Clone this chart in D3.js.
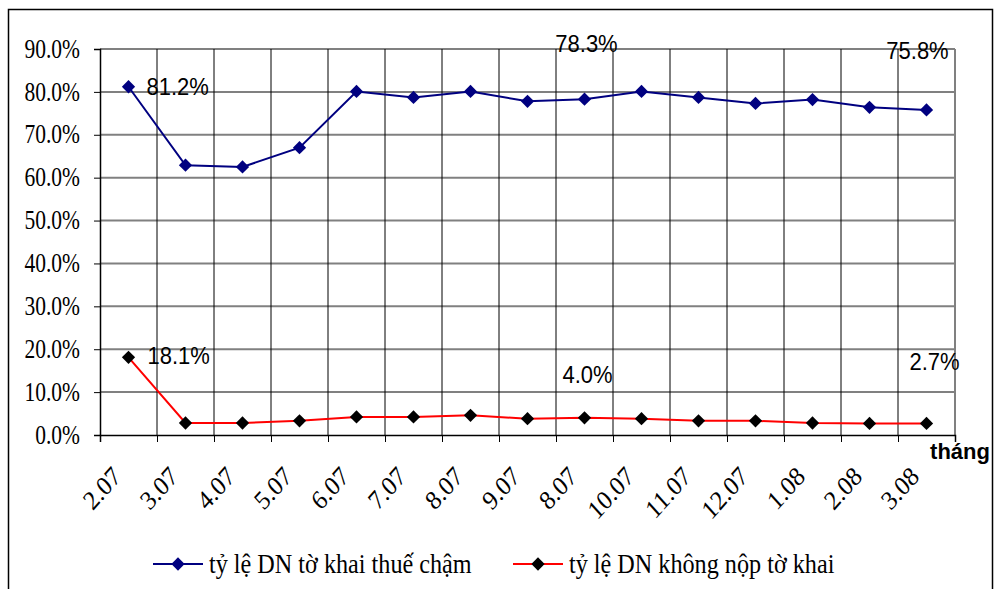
<!DOCTYPE html>
<html>
<head>
<meta charset="utf-8">
<script src="https://cdn.jsdelivr.net/npm/d3@7"></script>
<style>
  html, body { margin: 0; padding: 0; background: #fff; }
  svg { display: block; }
  .serif { font-family: "Liberation Serif", "Times New Roman", "DejaVu Serif", serif; }
  .sans { font-family: "Liberation Sans", Arial, sans-serif; }
</style>
</head>
<body>
<div id="chart"></div>
<script>
// dữ liệu
const months = ["2.07", "3.07", "4.07", "5.07", "6.07", "7.07", "8.07", "9.07", "8.07", "10.07", "11.07", "12.07", "1.08", "2.08", "3.08"];
const lateRate = [81.2, 62.9, 62.5, 67.0, 80.1, 78.7, 80.1, 77.8, 78.3, 80.1, 78.7, 77.3, 78.2, 76.4, 75.8];
const noFileRate = [18.1, 2.8, 2.8, 3.3, 4.2, 4.2, 4.6, 3.8, 4.0, 3.8, 3.3, 3.3, 2.8, 2.7, 2.7];
const yTicks = [0, 10, 20, 30, 40, 50, 60, 70, 80, 90];
const seriesNames = ["tỷ lệ DN tờ khai thuế chậm", "tỷ lệ DN không nộp tờ khai"];
const labeledIdx = [[0, 8, 14], [0, 8, 14]];

const width = 995, height = 589;
const plot = { left: 100, right: 955, top: 49, bottom: 435 };

const svg = d3.select("#chart").append("svg")
    .attr("width", width)
    .attr("height", height);

// khung ngoài
svg.append("rect")
    .attr("x", 8.5).attr("y", 9.5)
    .attr("width", 984).attr("height", 620)
    .attr("fill", "none")
    .attr("stroke", "#000")
    .attr("stroke-width", 1.5);

const n = months.length;
const x = d3.scalePoint().domain(d3.range(n)).range([plot.left, plot.right]).padding(0.5);
const xb = d3.scaleLinear().domain([0, n]).range([plot.left, plot.right]);
const y = d3.scaleLinear().domain([0, 90]).range([plot.bottom, plot.top]);

// lưới ngang
svg.append("g")
    .selectAll("line")
    .data(yTicks.filter(d => d > 0))
    .join("line")
    .attr("x1", plot.left).attr("x2", plot.right)
    .attr("y1", d => y(d)).attr("y2", d => y(d))
    .attr("stroke", "#808080")
    .attr("stroke-width", 2);

// lưới dọc
svg.append("g")
    .selectAll("line")
    .data(d3.range(1, n))
    .join("line")
    .attr("x1", d => xb(d)).attr("x2", d => xb(d))
    .attr("y1", plot.top).attr("y2", plot.bottom)
    .attr("stroke", "#000")
    .attr("stroke-width", 1);

svg.append("line")
    .attr("x1", plot.right).attr("x2", plot.right)
    .attr("y1", plot.top).attr("y2", plot.bottom)
    .attr("stroke", "#808080")
    .attr("stroke-width", 2);

// trục Y
const yAxis = svg.append("g")
    .attr("transform", `translate(${plot.left},0)`)
    .call(d3.axisLeft(y).tickValues(yTicks).tickSize(6).tickPadding(14)
        .tickFormat(d => d.toFixed(1) + "%"));
yAxis.attr("font-family", null).attr("font-size", null);
yAxis.select(".domain").attr("stroke", "#000").attr("stroke-width", 1.5);
yAxis.selectAll(".tick line").attr("stroke", "#000");
yAxis.selectAll("text")
    .attr("class", "serif")
    .style("font-size", "21.5px")
    .attr("fill", "#000")
    .attr("dy", "0.3em")
    .attr("transform", "scale(1,1.27)");

// trục X
const xAxis = svg.append("g")
    .attr("transform", `translate(0,${plot.bottom})`)
    .call(d3.axisBottom(xb).tickValues(d3.range(n + 1)).tickSize(7).tickFormat(""));
xAxis.select(".domain").attr("stroke", "#000").attr("stroke-width", 1.5);
xAxis.selectAll(".tick line").attr("stroke", "#000");

svg.append("g")
    .selectAll("text")
    .data(months)
    .join("text")
    .attr("class", "serif")
    .attr("transform", (d, i) => `translate(${x(i) - 6},${478}) scale(1,1.12) rotate(-45)`)
    .attr("text-anchor", "end")
    .style("font-size", "24px")
    .attr("fill", "#000")
    .text(d => d);

svg.append("text")
    .attr("class", "sans")
    .attr("x", 990).attr("y", 459)
    .attr("text-anchor", "end")
    .style("font-weight", "bold")
    .style("font-size", "22px")
    .text("tháng");

// đường và điểm
const series = [
    { values: lateRate, line: "#000080", marker: "#000080" },
    { values: noFileRate, line: "#ff0000", marker: "#000" }
];
const diamond = d3.symbol().type(d3.symbolSquare).size(88);
const line = d3.line().x((d, i) => x(i)).y(d => y(d));

series.forEach(s => {
    svg.append("path")
        .datum(s.values)
        .attr("fill", "none")
        .attr("stroke", s.line)
        .attr("stroke-width", 2)
        .attr("d", line);
    svg.append("g")
        .selectAll("path")
        .data(s.values)
        .join("path")
        .attr("d", diamond)
        .attr("transform", (d, i) => `translate(${x(i)},${y(d)}) rotate(45)`)
        .attr("fill", s.marker);
});

// nhãn dữ liệu (vị trí lệch như trong hình gốc)
const labelOffsets = [
    [[18, 0, "start"], [2, -56, "middle"], [-9, -59, "middle"]],
    [[19, -2, "start"], [3, -43, "middle"], [8, -62, "middle"]]
];
series.forEach((s, si) => {
    labeledIdx[si].forEach((idx, k) => {
        const [dx, dy, anchor] = labelOffsets[si][k];
        svg.append("text")
            .attr("class", "sans")
            .attr("transform", `translate(${x(idx) + dx},${y(s.values[idx]) + dy}) scale(1,1.08)`)
            .attr("text-anchor", anchor)
            .attr("dy", "0.36em")
            .style("font-size", "22px")
            .attr("fill", "#000")
            .text(s.values[idx].toFixed(1) + "%");
    });
});

// chú thích
const legendX = [153, 513];
series.forEach((s, i) => {
    const g = svg.append("g").attr("transform", `translate(${legendX[i]},564)`);
    g.append("line")
        .attr("x1", 0).attr("x2", 50)
        .attr("stroke", s.line).attr("stroke-width", 2);
    g.append("path")
        .attr("d", diamond)
        .attr("transform", "translate(25,0) rotate(45)")
        .attr("fill", s.marker);
    g.append("text")
        .attr("class", "serif")
        .attr("transform", "translate(56,0) scale(1,1.1)")
        .attr("dy", "0.32em")
        .style("font-size", "24.2px")
        .attr("fill", "#000")
        .text(seriesNames[i]);
});
</script>
</body>
</html>
